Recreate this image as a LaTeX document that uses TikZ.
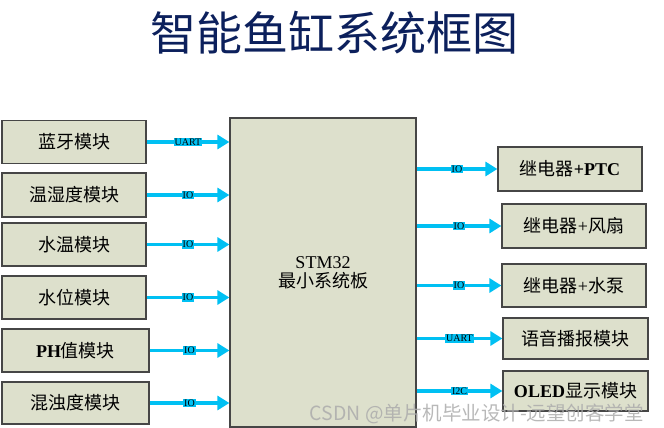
\documentclass[tikz,border=0pt]{standalone}
\usepackage{fontspec}
\setmainfont{Liberation Serif}
\newfontfamily\cjk{Noto Sans CJK SC}
\usetikzlibrary{positioning,arrows.meta}
\definecolor{boxfill}{RGB}{221,224,204}
\definecolor{boxline}{RGB}{70,70,70}
\definecolor{wire}{RGB}{0,192,243}
\definecolor{navy}{RGB}{12,32,92}

\begin{document}
\begin{tikzpicture}[
	x=1pt,y=-1pt
	,every node/.append style={font=\fontsize{18}{21}\selectfont}
	,mod/.style={draw=boxline, fill=boxfill, line width=1.2pt, minimum width=144pt, minimum height=43pt, inner sep=0pt}
	,bus/.style={wire, line width=3.2pt, -{Triangle[length=12pt,width=14pt]}}
	,tag/.style={fill=wire, text=black, inner sep=0.8pt, font=\fontsize{10}{10}\selectfont}
]
	\useasboundingbox (0,0) rectangle (664,428);

	% title
	\node [text=navy, font=\fontsize{46}{50}\selectfont] (title) at (334,33) {\cjk 智能鱼缸系统框图};

	% controller
	\node [mod, minimum width=186pt, minimum height=309pt, align=center] (stm) at (323,272.5)
		{STM32\\[-2pt]{\cjk 最小系统板}};

	% inputs
	\node [mod] (bt) at (74,142) {\cjk 蓝牙模块};
	\node [mod, minimum height=44pt] (th) at (74,195) {\cjk 温湿度模块};
	\node [mod] (wt) at (74,244.5) {\cjk 水温模块};
	\node [mod] (wl) at (74,297.5) {\cjk 水位模块};
	\node [mod, minimum width=147pt] (ph) at (75.5,350.5) {\textbf{PH}{\cjk 值模块}};
	\node [mod, minimum width=147pt, minimum height=42pt] (tb) at (75.5,403) {\cjk 混浊度模块};

	% outputs
	\node [mod, minimum height=44pt] (ptc) at (570,169) {{\cjk 继电器}\textbf{+PTC}};
	\node [mod, minimum height=44pt] (fan) at (574,226) {{\cjk 继电器}+{\cjk 风扇}};
	\node [mod] (pump) at (574,285.5) {{\cjk 继电器}+{\cjk 水泵}};
	\node [mod, minimum width=145pt, minimum height=41pt] (voice) at (575.5,338.5) {\cjk 语音播报模块};
	\node [mod, minimum width=145pt, minimum height=40pt] (oled) at (575.5,391) {\textbf{OLED}{\cjk 显示模块}};

	% links
	\draw [bus] (bt.east) -- (bt.east -| stm.west) node [tag, midway] {UART};
	\draw [bus] (th.east) -- (th.east -| stm.west) node [tag, midway] {IO};
	\draw [bus] (wt.east) -- (wt.east -| stm.west) node [tag, midway] {IO};
	\draw [bus] (wl.east) -- (wl.east -| stm.west) node [tag, midway] {IO};
	\draw [bus] (ph.east) -- (ph.east -| stm.west) node [tag, midway] {IO};
	\draw [bus] (tb.east) -- (tb.east -| stm.west) node [tag, midway] {IO};
	\draw [bus] (stm.east |- ptc.west) -- (ptc.west) node [tag, midway] {IO};
	\draw [bus] (stm.east |- fan.west) -- (fan.west) node [tag, midway] {IO};
	\draw [bus] (stm.east |- pump.west) -- (pump.west) node [tag, midway] {IO};
	\draw [bus] (stm.east |- voice.west) -- (voice.west) node [tag, midway] {UART};
	\draw [bus] (stm.east |- oled.west) -- (oled.west) node [tag, midway] {I2C};

	% watermark
	\node [text=gray!65, opacity=0.85, font=\fontsize{19.5}{20}\selectfont, anchor=east, inner sep=0pt] (mark) at (644,414)
		{\cjk CSDN @单片机毕业设计-远望创客学堂};
\end{tikzpicture}
\end{document}
